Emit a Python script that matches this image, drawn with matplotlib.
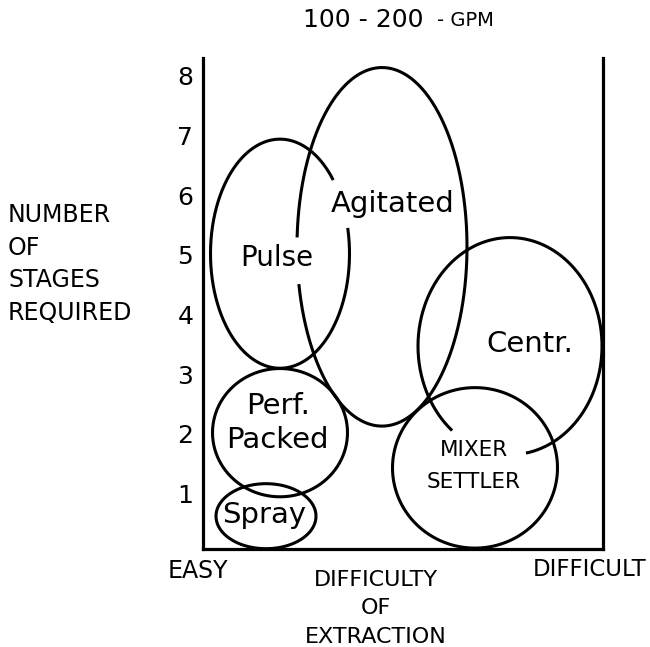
import numpy as np
import matplotlib
matplotlib.use('Agg')
import matplotlib.pyplot as plt

plt.rcParams['font.family'] = ['DejaVu Sans']

#%% data : extractor operating regions (difficulty 0-10, stages)
names = ['Pulse', 'Agitated', 'Centr.', 'MIXER\nSETTLER', 'Perf.\nPacked', 'Spray']
x_center = [1.925, 4.475, 7.675, 6.8, 1.925, 1.575]
y_center = [5.02, 5.135, 3.47, 1.43, 2.02, 0.62]
x_span = [3.475, 4.25, 4.6, 4.125, 3.375, 2.5]
y_span = [3.84, 6.01, 3.64, 2.69, 2.15, 1.09]
# part of the outline left open (parametric angle, deg)
gaps = [(13, 40), (177, 192), (231, 280), None, None, None]

stage_ticks = [1, 2, 3, 4, 5, 6, 7, 8]
ylabel_words = ['NUMBER', 'OF', 'STAGES', 'REQUIRED']
xlabel_words = ['DIFFICULTY', 'OF', 'EXTRACTION']

#%% label placement
label_pos = [(1.85, 4.95), (4.75, 5.86), (8.175, 3.50), (6.775, 1.46), (1.87, 2.18), (1.525, 0.64)]
label_size = [20, 21, 21, 15.5, 21, 21]
label_spacing = [1.0, 1.0, 1.0, 1.75, 1.27, 1.0]

W, H = 650, 647
fig = plt.figure(figsize=(W / 100, H / 100), dpi=100)
ax = fig.add_axes([203 / W, 1 - 549 / H, 400 / W, (549 - 58) / H])

for i in range(len(names)):
    if gaps[i] is None:
        t = np.linspace(0, 360, 500)
    else:
        t = np.linspace(gaps[i][1], gaps[i][0] + 360, 500)
    t = np.deg2rad(t)
    ax.plot(x_center[i] + x_span[i] / 2 * np.cos(t),
            y_center[i] + y_span[i] / 2 * np.sin(t),
            color='black', lw=2.2, solid_capstyle='butt')
    ax.text(label_pos[i][0], label_pos[i][1], names[i], fontsize=label_size[i],
            ha='center', va='center', linespacing=label_spacing[i])

ax.set_xlim(0, 10)
ax.set_ylim(0.07, 8.3)
ax.set_xticks([])
ax.set_yticks(stage_ticks)
ax.set_yticklabels([str(v) for v in stage_ticks], fontsize=18)
ax.tick_params(axis='y', length=0, pad=7)
ax.spines['top'].set_visible(False)
for s in ['left', 'right', 'bottom']:
    ax.spines[s].set_linewidth(2.3)

#%% titles / axis words
fig.text(303 / W, 1 - 20 / H, '100 - 200', fontsize=18, ha='left', va='center')
fig.text(437 / W, 1 - 21 / H, '- GPM', fontsize=14, ha='left', va='center')

for k, w in enumerate(ylabel_words):
    fig.text(8 / W, 1 - (215 + 32.7 * k) / H, w, fontsize=17, ha='left', va='center')

fig.text(198 / W, 1 - 571 / H, 'EASY', fontsize=17, ha='center', va='center')
fig.text(590 / W, 1 - 570 / H, 'DIFFICULT', fontsize=16.5, ha='center', va='center')
for k, w in enumerate(xlabel_words):
    fig.text(376 / W, 1 - (580 + 28.5 * k) / H, w, fontsize=16, ha='center', va='center')

fig.savefig('out.png', dpi=100)
